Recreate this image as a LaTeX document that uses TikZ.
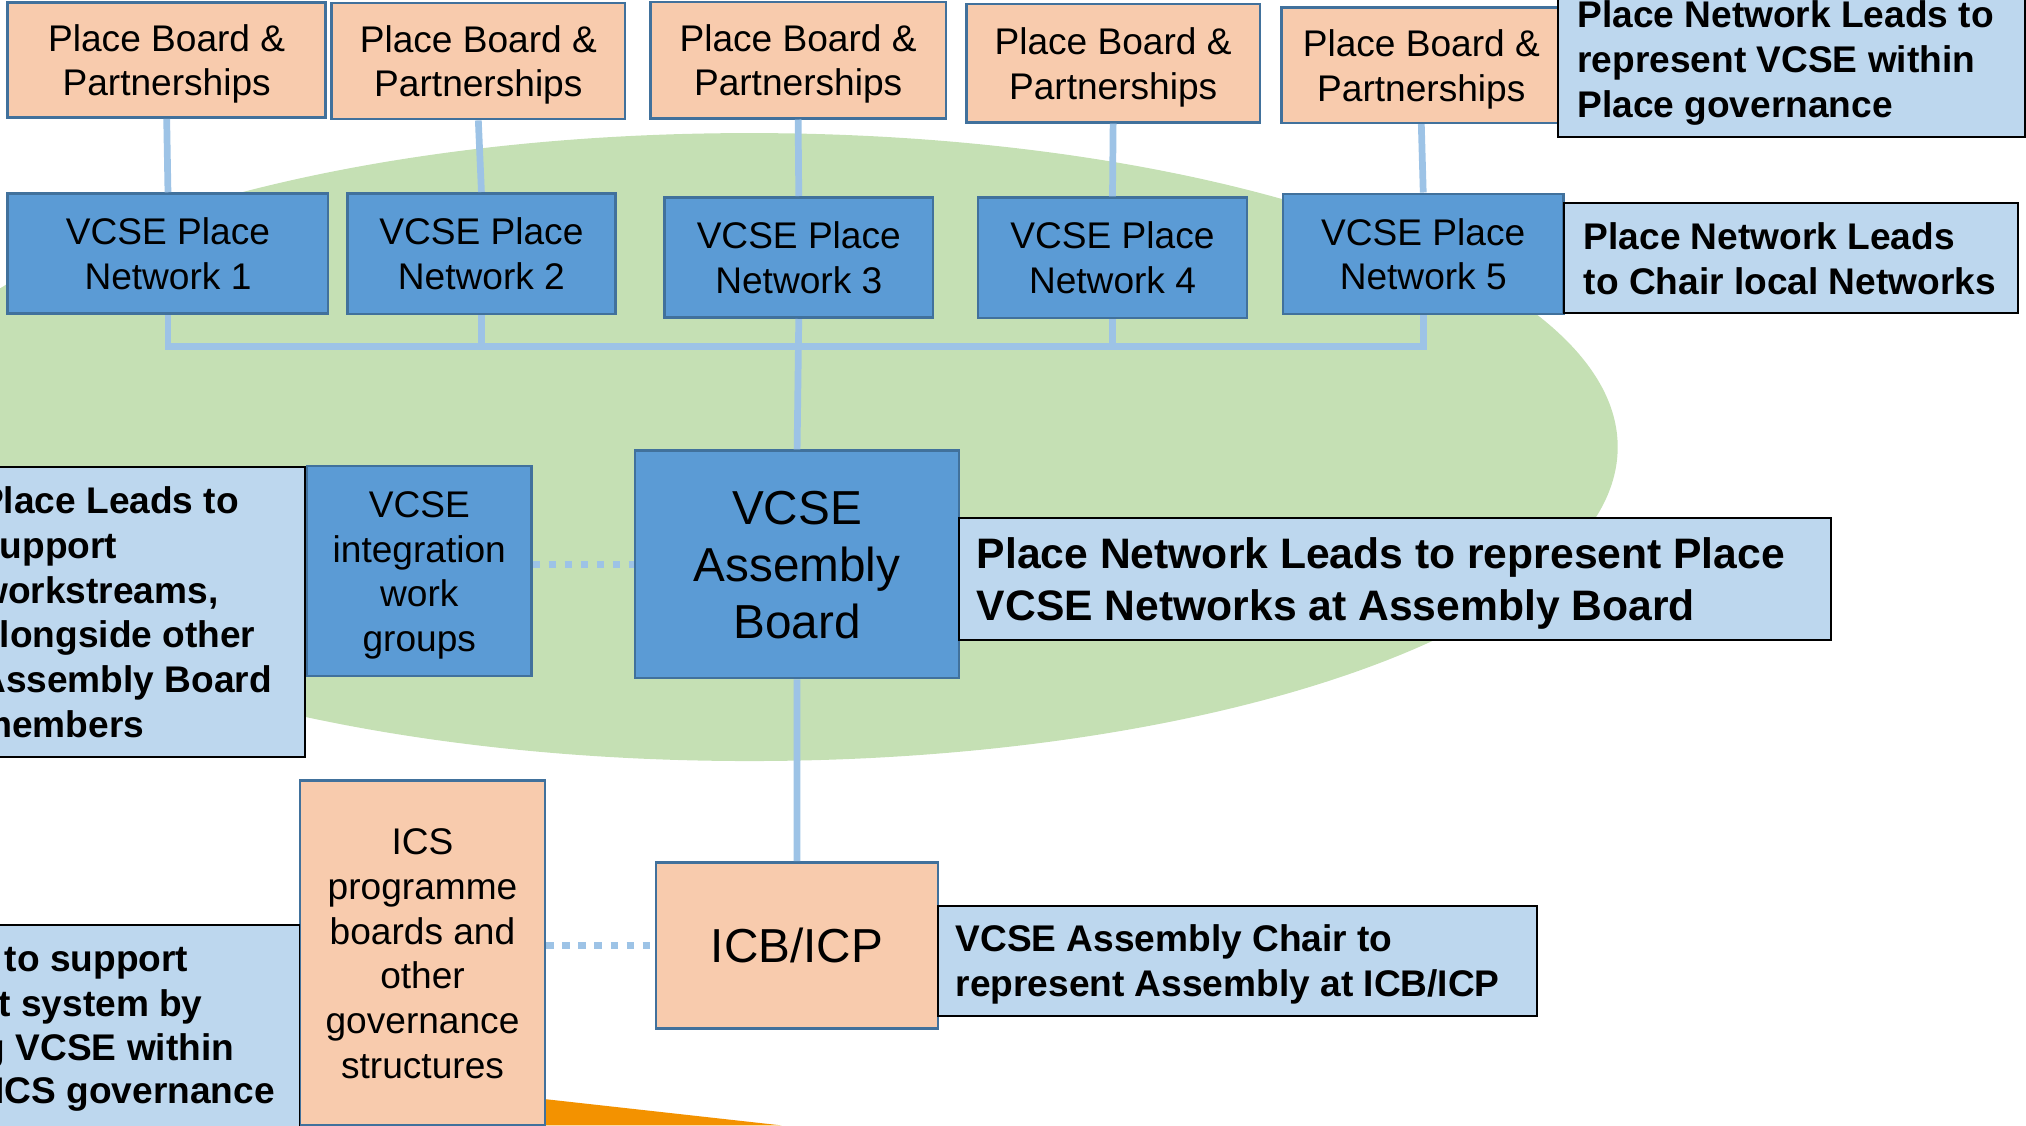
\documentclass[tikz,border=0pt]{standalone}
\usepackage{fontspec}
\setmainfont{Liberation Sans}
\definecolor{pborange}{HTML}{F8CBAD}
\definecolor{vblue}{HTML}{5B9BD5}
\definecolor{bordc}{HTML}{41719C}
\definecolor{lblue}{HTML}{BDD7EE}
\definecolor{egreen}{HTML}{C5E0B4}
\definecolor{linkc}{HTML}{9DC3E6}
\definecolor{wedgeor}{HTML}{F39200}
\newcommand\fA{\fontsize{14.35}{17.3}\selectfont}
\newcommand\fB{\fontsize{18.45}{22.1}\selectfont}
\newcommand\fC{\fontsize{16.5}{18.35}\selectfont\bfseries}
\newcommand\ts{\rule[-.21em]{0pt}{1.15em}}
\begin{document}
\begin{tikzpicture}[x=0.5pt,y=-0.5pt,
  pbox/.style={draw=bordc, line width=1pt, fill=pborange, align=center, font=\fA, inner sep=0pt},
  nbox/.style={draw=bordc, line width=1pt, fill=vblue, align=center, font=\fA, inner sep=0pt},
  lbox/.style={draw=black, line width=0.75pt, fill=lblue, inner sep=0pt},
  ltext/.style={anchor=west, align=left, inner sep=0pt, font=\fA\bfseries},
  lline/.style={anchor=base west, inner sep=0pt, font=\fA\bfseries},
  link/.style={draw=linkc, line width=2.6pt},
  dotlink/.style={draw=linkc, line width=2.8pt, dash pattern=on 2.85pt off 3.35pt}]
\useasboundingbox (0,0) rectangle (1568,871);
\clip (0,0) rectangle (1568,871);
% background shapes
\fill[egreen] (580,346) ellipse [x radius=336pt, y radius=121.5pt];
\fill[wedgeor] (380,846) -- (605,871) -- (380,871) -- cycle;

% place boards
\node[pbox, minimum width=123pt, minimum height=44.5pt] (PB1) at (129,46.5) {\ts Place Board \&\\Partnerships\ts};
\node[pbox, minimum width=113.5pt, minimum height=45pt] (PB2) at (370.2,47.2) {\ts Place Board \&\\Partnerships\ts};
\node[pbox, minimum width=114.3pt, minimum height=45pt] (PB3) at (617.7,46.5) {\ts Place Board \&\\Partnerships\ts};
\node[pbox, minimum width=113.5pt, minimum height=45.8pt] (PB4) at (861.5,48.9) {\ts Place Board \&\\Partnerships\ts};
\node[pbox, minimum width=108pt, minimum height=44.7pt] (PB5) at (1100,50.4) {\ts Place Board \&\\Partnerships\ts};

% networks
\node[nbox, minimum width=124pt, minimum height=46.5pt] (N1) at (130,196.3) {\ts VCSE Place\\Network 1\ts};
\node[nbox, minimum width=103.6pt, minimum height=46.7pt] (N2) at (372.6,196.3) {\ts VCSE Place\\Network 2\ts};
\node[nbox, minimum width=103.9pt, minimum height=46.6pt] (N3) at (618.2,199.3) {\ts VCSE Place\\Network 3\ts};
\node[nbox, minimum width=104pt, minimum height=46.5pt] (N4) at (861,199.5) {\ts VCSE Place\\Network 4\ts};
\node[nbox, minimum width=108.5pt, minimum height=46.5pt] (N5) at (1101.5,196.5) {\ts VCSE Place\\Network 5\ts};

% central column
\node[nbox, font=\fB, minimum width=125.45pt, minimum height=88pt] (AB) at (616.9,436.8) {\ts VCSE\\Assembly\\Board\ts};
\node[nbox, minimum width=86.75pt, minimum height=81.25pt] (INT) at (324.5,442) {\ts VCSE\\integration\\work\\groups\ts};
\node[pbox, font=\fB, minimum width=109.2pt, minimum height=64.2pt] (ICB) at (616.8,731.6) {\ts ICB/ICP};
\node[pbox, minimum width=94.9pt, minimum height=133.4pt] (ICS) at (327,737.6) {\ts ICS\\programme\\boards and\\other\\governance\\structures\ts};

% label boxes
\node[lbox, minimum width=180.5pt, minimum height=60.4pt] (LTR) at (1386.5,45.6) {};
\node[ltext, xshift=7.6pt] (LTRt) at (LTR.west) {\ts Place Network Leads to\\represent VCSE within\\Place governance\ts};

\node[lbox, minimum width=175.75pt, minimum height=42.6pt] (LNC) at (1386.25,199.9) {};
\node[ltext, xshift=7.8pt] (LNCt) at (LNC.west) {\ts Place Network Leads\\to Chair local Networks\ts};

\node[lbox, minimum width=337.5pt, minimum height=47pt] (LAB) at (1079.5,448) {};
\node[ltext, font=\fC, xshift=7.2pt] (LABt) at (LAB.west) {\ts Place Network Leads to represent Place\\VCSE Networks at Assembly Board\ts};

\node[lbox, minimum width=231.65pt, minimum height=42.55pt] (LICB) at (957.65,743.55) {};
\node[ltext, xshift=7pt] (LICBt) at (LICB.west) {\ts VCSE Assembly Chair to\\represent Assembly at ICB/ICP\ts};

\node[lbox, minimum width=137.9pt, minimum height=112.45pt] (LML) at (97.9,473.65) {};
\node[ltext, xshift=12.15pt] (LMLt) at (LML.west) {\ts Place Leads to\\support\\workstreams,\\alongside other\\Assembly Board\\members\ts};

\node[lbox, minimum width=135.9pt, minimum height=92pt] (LBL) at (95.9,808) {};
\node[lline] (LBL1) at (3.4,752) {to support};
\node[lline] (LBL2) at (-1.5,786.9) {t system by};
\node[lline] (LBL3) at (-13.7,820.4) {g VCSE within};
\node[lline] (LBL4) at (-4.6,853.9) {ICS governance};

% connectors
\coordinate (bus) at (0,268);
\foreach \i in {1,...,5} { \draw[link] (PB\i.south) -- (N\i.north); }
\draw[link] (N1.south) -- (N1.south |- bus) -- (N5.south |- bus) -- (N5.south);
\draw[link] (N2.south) -- (N2.south |- bus);
\draw[link] (N4.south) -- (N4.south |- bus);
\draw[link] (N3.south) -- (AB.north);
\draw[link] (AB.south) -- (ICB.north);
\draw[dotlink] (INT.east |- AB.west) -- (AB.west);
\draw[dotlink] (ICS.east |- ICB.west) -- (ICB.west);
\end{tikzpicture}
\end{document}
